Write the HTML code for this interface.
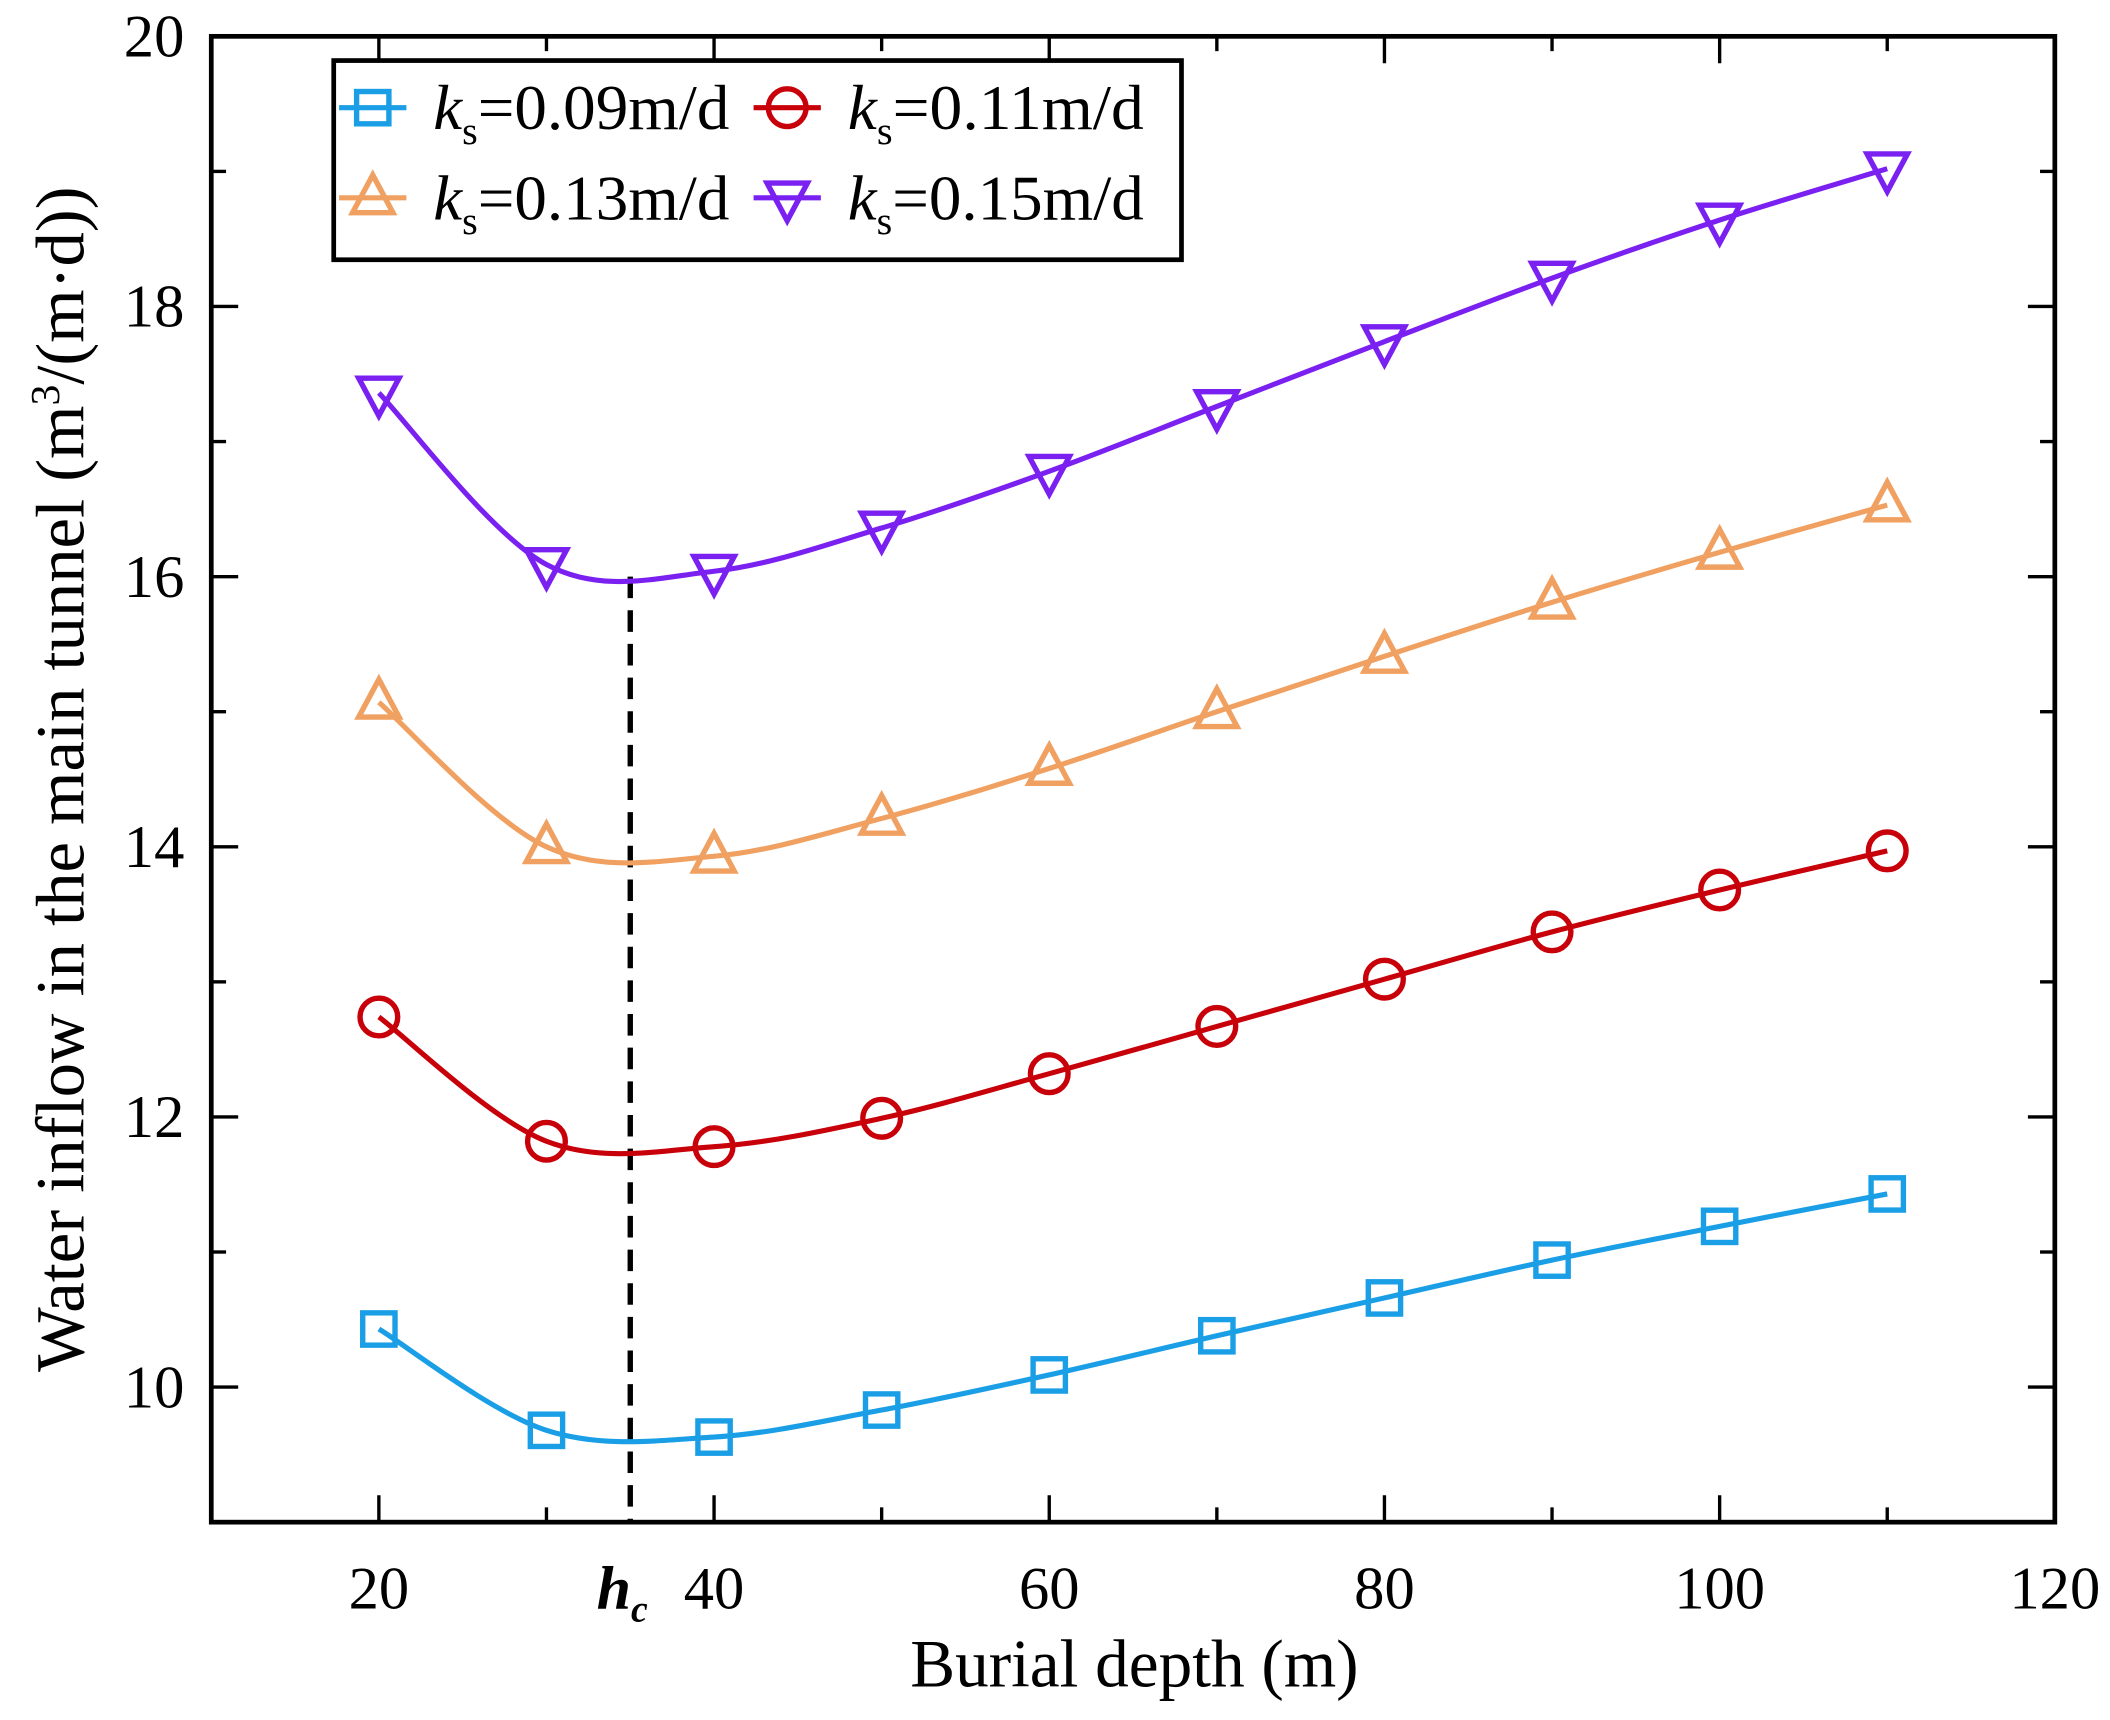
<!DOCTYPE html>
<html><head><meta charset="utf-8"><style>
html,body{margin:0;padding:0;background:#fff}
svg{display:block}
text{font-family:"Liberation Serif",serif;fill:#000}
</style></head><body>
<svg id="chart" width="2110" height="1720" viewBox="0 0 1568 1278" preserveAspectRatio="none" xmlns="http://www.w3.org/2000/svg">
<g id="plot"></g>
</svg>
<script>
const depths=[20,30,40,50,60,70,80,90,100,110];
const ks009=[10.43,9.68,9.63,9.83,10.09,10.38,10.66,10.94,11.19,11.43];
const ks011=[12.74,11.82,11.78,11.99,12.32,12.67,13.02,13.37,13.68,13.97];
const ks013=[15.07,14.00,13.93,14.21,14.58,15.00,15.41,15.81,16.18,16.53];
const ks015=[17.36,16.09,16.04,16.36,16.78,17.26,17.74,18.21,18.64,19.02];
const xTicks=[20,40,60,80,100,120];
const xMinor=[30,50,70,90,110];
const yTicks=[10,12,14,16,18,20];
const yMinor=[11,13,15,17,19];
const hcValue=35, hcFlow=16;

const L=157,R=1527,T=27,B=1131;
const xs=v=>L+(v-10)/110*(R-L);
const ys=v=>B-(v-9)/11*(B-T);
const NS="http://www.w3.org/2000/svg";
const g=document.getElementById('plot');
function mk(tag,attrs,parent){const e=document.createElementNS(NS,tag);for(const k in attrs)e.setAttribute(k,attrs[k]);(parent||g).appendChild(e);return e;}

const frame=mk('rect',{x:L,y:T,width:R-L,height:B-T,fill:'none',stroke:'#000','stroke-width':3.5});



xTicks.forEach(v=>{
  const t1=mk('line',{x1:xs(v),x2:xs(v),y1:B,y2:B-20,stroke:'#000','stroke-width':2.5});
  
  
  mk('line',{x1:xs(v),x2:xs(v),y1:T,y2:T+20,stroke:'#000','stroke-width':2.5});
  const lb=mk('text',{x:xs(v),y:B+64,'font-size':45,'text-anchor':'middle'});
  lb.textContent=v;
  
  
});
xMinor.forEach(v=>{
  mk('line',{x1:xs(v),x2:xs(v),y1:B,y2:B-11,stroke:'#000','stroke-width':2.5});
  mk('line',{x1:xs(v),x2:xs(v),y1:T,y2:T+11,stroke:'#000','stroke-width':2.5});
});
yTicks.forEach(v=>{
  const t1=mk('line',{x1:L,x2:L+20,y1:ys(v),y2:ys(v),stroke:'#000','stroke-width':2.5});
  
  
  mk('line',{x1:R,x2:R-20,y1:ys(v),y2:ys(v),stroke:'#000','stroke-width':2.5});
  const lb=mk('text',{x:L-20,y:ys(v)+15,'font-size':45,'text-anchor':'end'});
  lb.textContent=v;
  
  
});
yMinor.forEach(v=>{
  mk('line',{x1:L,x2:L+11,y1:ys(v),y2:ys(v),stroke:'#000','stroke-width':2.5});
  mk('line',{x1:R,x2:R-11,y1:ys(v),y2:ys(v),stroke:'#000','stroke-width':2.5});
});

const dl=mk('line',{x1:xs(hcValue),x2:xs(hcValue),y1:ys(hcFlow),y2:B,stroke:'#000','stroke-width':4,'stroke-dasharray':'16,9'});


const hc=mk('text',{x:xs(hcValue)-6,y:B+64,'font-size':46,'text-anchor':'middle','font-weight':'bold','font-style':'italic'});
hc.innerHTML='h<tspan font-size="28" dy="10">c</tspan>';



const xt=mk('text',{x:843,y:1253,'font-size':50,'text-anchor':'middle'});
xt.textContent='Burial depth (m)';


const yt=mk('text',{x:0,y:0,'font-size':51,'text-anchor':'middle',transform:'translate(62,579) rotate(-90)'});
yt.innerHTML='Water inflow in the main tunnel (m<tspan font-size="31" dy="-18">3</tspan><tspan dy="18">/(m·d))</tspan>';



function smoothPath(xv,yv){
  const p=xv.map((x,i)=>[xs(x),ys(yv[i])]);
  let d='M'+p[0][0]+','+p[0][1];
  for(let i=0;i<p.length-1;i++){
    const p0=p[i-1]||p[i],p1=p[i],p2=p[i+1],p3=p[i+2]||p2;
    const c1=[p1[0]+(p2[0]-p0[0])/6,p1[1]+(p2[1]-p0[1])/6];
    const c2=[p2[0]-(p3[0]-p1[0])/6,p2[1]-(p3[1]-p1[1])/6];
    d+=` C${c1[0]},${c1[1]} ${c2[0]},${c2[1]} ${p2[0]},${p2[1]}`;
  }
  return d;
}
function marker(type,cx,cy,color,parent){
  const a={fill:'none',stroke:color,'stroke-width':4};
  if(type==='square') return mk('rect',Object.assign({x:cx-12,y:cy-12,width:24,height:24},a),parent);
  if(type==='circle') return mk('circle',Object.assign({cx,cy,r:14},a),parent);
  if(type==='up') return mk('polygon',Object.assign({points:`${cx},${cy-17} ${cx-15},${cy+11} ${cx+15},${cy+11}`},a),parent);
  return mk('polygon',Object.assign({points:`${cx},${cy+17} ${cx-15},${cy-11} ${cx+15},${cy-11}`},a),parent);
}
const series=[
 {name:'series-ks-0-09',vals:ks009,color:'#1a9ee6',m:'square'},
 {name:'series-ks-0-11',vals:ks011,color:'#c8000a',m:'circle'},
 {name:'series-ks-0-13',vals:ks013,color:'#f0a060',m:'up'},
 {name:'series-ks-0-15',vals:ks015,color:'#7a20f0',m:'down'}];
series.forEach(s=>{
  const sg=mk('g',{});
  
  
  mk('path',{d:smoothPath(depths,s.vals),fill:'none',stroke:s.color,'stroke-width':3.8},sg);
  depths.forEach((x,i)=>{
    const m=marker(s.m,xs(x),ys(s.vals[i]),s.color,sg);
    
    
  });
});

const lg=mk('g',{});


mk('rect',{x:248,y:45,width:630,height:148,fill:'#fff',stroke:'#000','stroke-width':3.5},lg);
const labels=['0.09','0.11','0.13','0.15'];
const pos=[[252,80],[560,80],[252,147],[560,147]];
series.forEach((s,i)=>{
  const eg=mk('g',{},lg);
  
  
  const [x0,y0]=pos[i];
  mk('line',{x1:x0,x2:x0+50,y1:y0,y2:y0,stroke:s.color,'stroke-width':3.8},eg);
  marker(s.m,x0+25,y0,s.color,eg);
  const t=mk('text',{x:x0+70,y:y0+16,'font-size':47,textLength:220,lengthAdjust:'spacingAndGlyphs'},eg);
  t.innerHTML=`<tspan font-style="italic">k</tspan><tspan font-size="29" dy="11">s</tspan><tspan dy="-11">=${labels[i]}m/d</tspan>`;
});
</script>
</body></html>
